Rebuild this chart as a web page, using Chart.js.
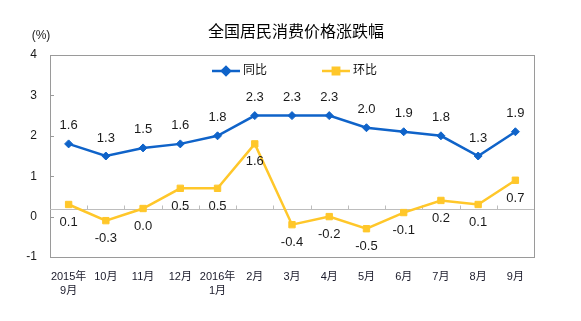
<!DOCTYPE html>
<html>
<head>
<meta charset="utf-8">
<script src="https://cdn.jsdelivr.net/npm/chart.js@4.4.1/dist/chart.umd.min.js"></script>
<style>
  html, body { margin: 0; padding: 0; background: #fff; }
</style>
</head>
<body>
<canvas id="myChart" width="581" height="321"></canvas>
<script>
const months = [
  ["2015年", "9月"], "10月", "11月", "12月", ["2016年", "1月"], "2月",
  "3月", "4月", "5月", "6月", "7月", "8月", "9月",
];
const yoy = [1.6, 1.3, 1.5, 1.6, 1.8, 2.3, 2.3, 2.3, 2.0, 1.9, 1.8, 1.3, 1.9];
const mom = [0.1, -0.3, 0.0, 0.5, 0.5, 1.6, -0.4, -0.2, -0.5, -0.1, 0.2, 0.1, 0.7];
const yTickLabels = [-1, 0, 1, 2, 3, 4];
// the y labels in the original sit 0.2 below the real value lines
const yShift = 0.2;

const blue = "#0f63c9";
const yellow = "#ffc72a";
const fontFamily = '"Liberation Sans", Arial, "Noto Sans CJK SC", sans-serif';

const extras = {
  id: "extras",
  beforeDatasetsDraw(chart) {
    const { ctx, chartArea: a, scales } = chart;
    ctx.save();
    // frame
    ctx.strokeStyle = "#9a9a9a";
    ctx.lineWidth = 1;
    ctx.strokeRect(a.left + 0.5, a.top + 0.5, a.right - a.left, a.bottom - a.top);
    // little ticks inside left axis
    yTickLabels.forEach((v) => {
      const y = Math.round(scales.y.getPixelForValue(v - yShift)) + 0.5;
      ctx.beginPath();
      ctx.moveTo(a.left, y);
      ctx.lineTo(a.left + 4, y);
      ctx.stroke();
    });
    // zero line with category ticks
    const y0 = Math.round(scales.y.getPixelForValue(0)) + 0.5;
    ctx.strokeStyle = "#bdbdbd";
    ctx.beginPath();
    ctx.moveTo(a.left, y0);
    ctx.lineTo(a.right, y0);
    const step = (a.right - a.left) / months.length;
    for (let i = 1; i < months.length; i++) {
      const x = Math.round(a.left + step * i) + 0.5;
      ctx.moveTo(x, y0);
      ctx.lineTo(x, y0 - 4);
    }
    ctx.stroke();
    ctx.restore();
  },
  afterDatasetsDraw(chart) {
    const { ctx } = chart;
    ctx.save();
    // value labels
    ctx.font = "13px " + fontFamily;
    ctx.fillStyle = "#1a1a1a";
    ctx.textAlign = "center";
    ctx.textBaseline = "middle";
    chart.data.datasets.forEach((ds, di) => {
      const meta = chart.getDatasetMeta(di);
      meta.data.forEach((pt, i) => {
        const off = di === 0 ? -18 : 18;
        ctx.fillText(ds.data[i].toFixed(1), pt.x, pt.y + off);
      });
    });
    // title
    ctx.font = "16px " + fontFamily;
    ctx.fillStyle = "#000";
    ctx.fillText("全国居民消费价格涨跌幅", 296, 33);
    // unit
    ctx.font = "12px " + fontFamily;
    ctx.fillStyle = "#222";
    ctx.fillText("(%)", 41, 36);
    // legend
    const items = [
      { x: 212, color: blue, style: "rectRot", r: 4 },
      { x: 322, color: yellow, style: "rect", r: 4.5 },
    ];
    items.forEach((it, i) => {
      const ly = 71;
      ctx.strokeStyle = it.color;
      ctx.fillStyle = it.color;
      ctx.lineWidth = 2.5;
      ctx.beginPath();
      ctx.moveTo(it.x, ly);
      ctx.lineTo(it.x + 28, ly);
      ctx.stroke();
      Chart.helpers.drawPoint(ctx, { pointStyle: it.style, radius: it.r, borderWidth: 1 }, it.x + 14, ly);
      ctx.fillStyle = "#111";
      ctx.textAlign = "left";
      ctx.font = "12px " + fontFamily;
      ctx.fillText(chart.data.datasets[i].label, it.x + 31, ly);
    });
    ctx.restore();
  },
};

const data = {
  labels: months,
  datasets: [
    {
      label: "同比",
      data: yoy,
      borderColor: blue,
      backgroundColor: blue,
      borderWidth: 2.5,
      pointStyle: "rectRot",
      pointRadius: 4,
      pointBorderWidth: 1,
    },
    {
      label: "环比",
      data: mom,
      borderColor: yellow,
      backgroundColor: yellow,
      borderWidth: 2.5,
      pointStyle: "rect",
      pointRadius: 4.5,
      pointBorderWidth: 1,
    },
  ],
};

const config = {
  type: "line",
  data: data,
  plugins: [extras],
  options: {
    responsive: false,
    animation: false,
    layout: { padding: { top: 55, right: 47, bottom: 0, left: 0 } },
    plugins: {
      legend: { display: false },
      tooltip: { enabled: false },
    },
    scales: {
      x: {
        offset: true,
        grid: { display: false, drawTicks: false },
        border: { display: false },
        ticks: {
          padding: 12,
          autoSkip: false,
          maxRotation: 0,
          color: "#1a1a2a",
          font: { family: fontFamily, size: 11, lineHeight: 1.36 },
        },
        afterFit: (s) => { s.height = 64; },
      },
      y: {
        min: -1 - yShift,
        max: 4 - yShift,
        grid: { display: false, drawTicks: false },
        border: { display: false },
        afterBuildTicks: (s) => {
          s.ticks = yTickLabels.map((v) => ({ value: v - yShift }));
        },
        ticks: {
          padding: 13,
          color: "#1a1a1a",
          font: { family: fontFamily, size: 12 },
          callback: (v) => String(Math.round(v + yShift)),
        },
        afterFit: (s) => { s.width = 50; },
      },
    },
  },
};

const myChart = new Chart(document.getElementById("myChart"), config);
</script>
</body>
</html>
